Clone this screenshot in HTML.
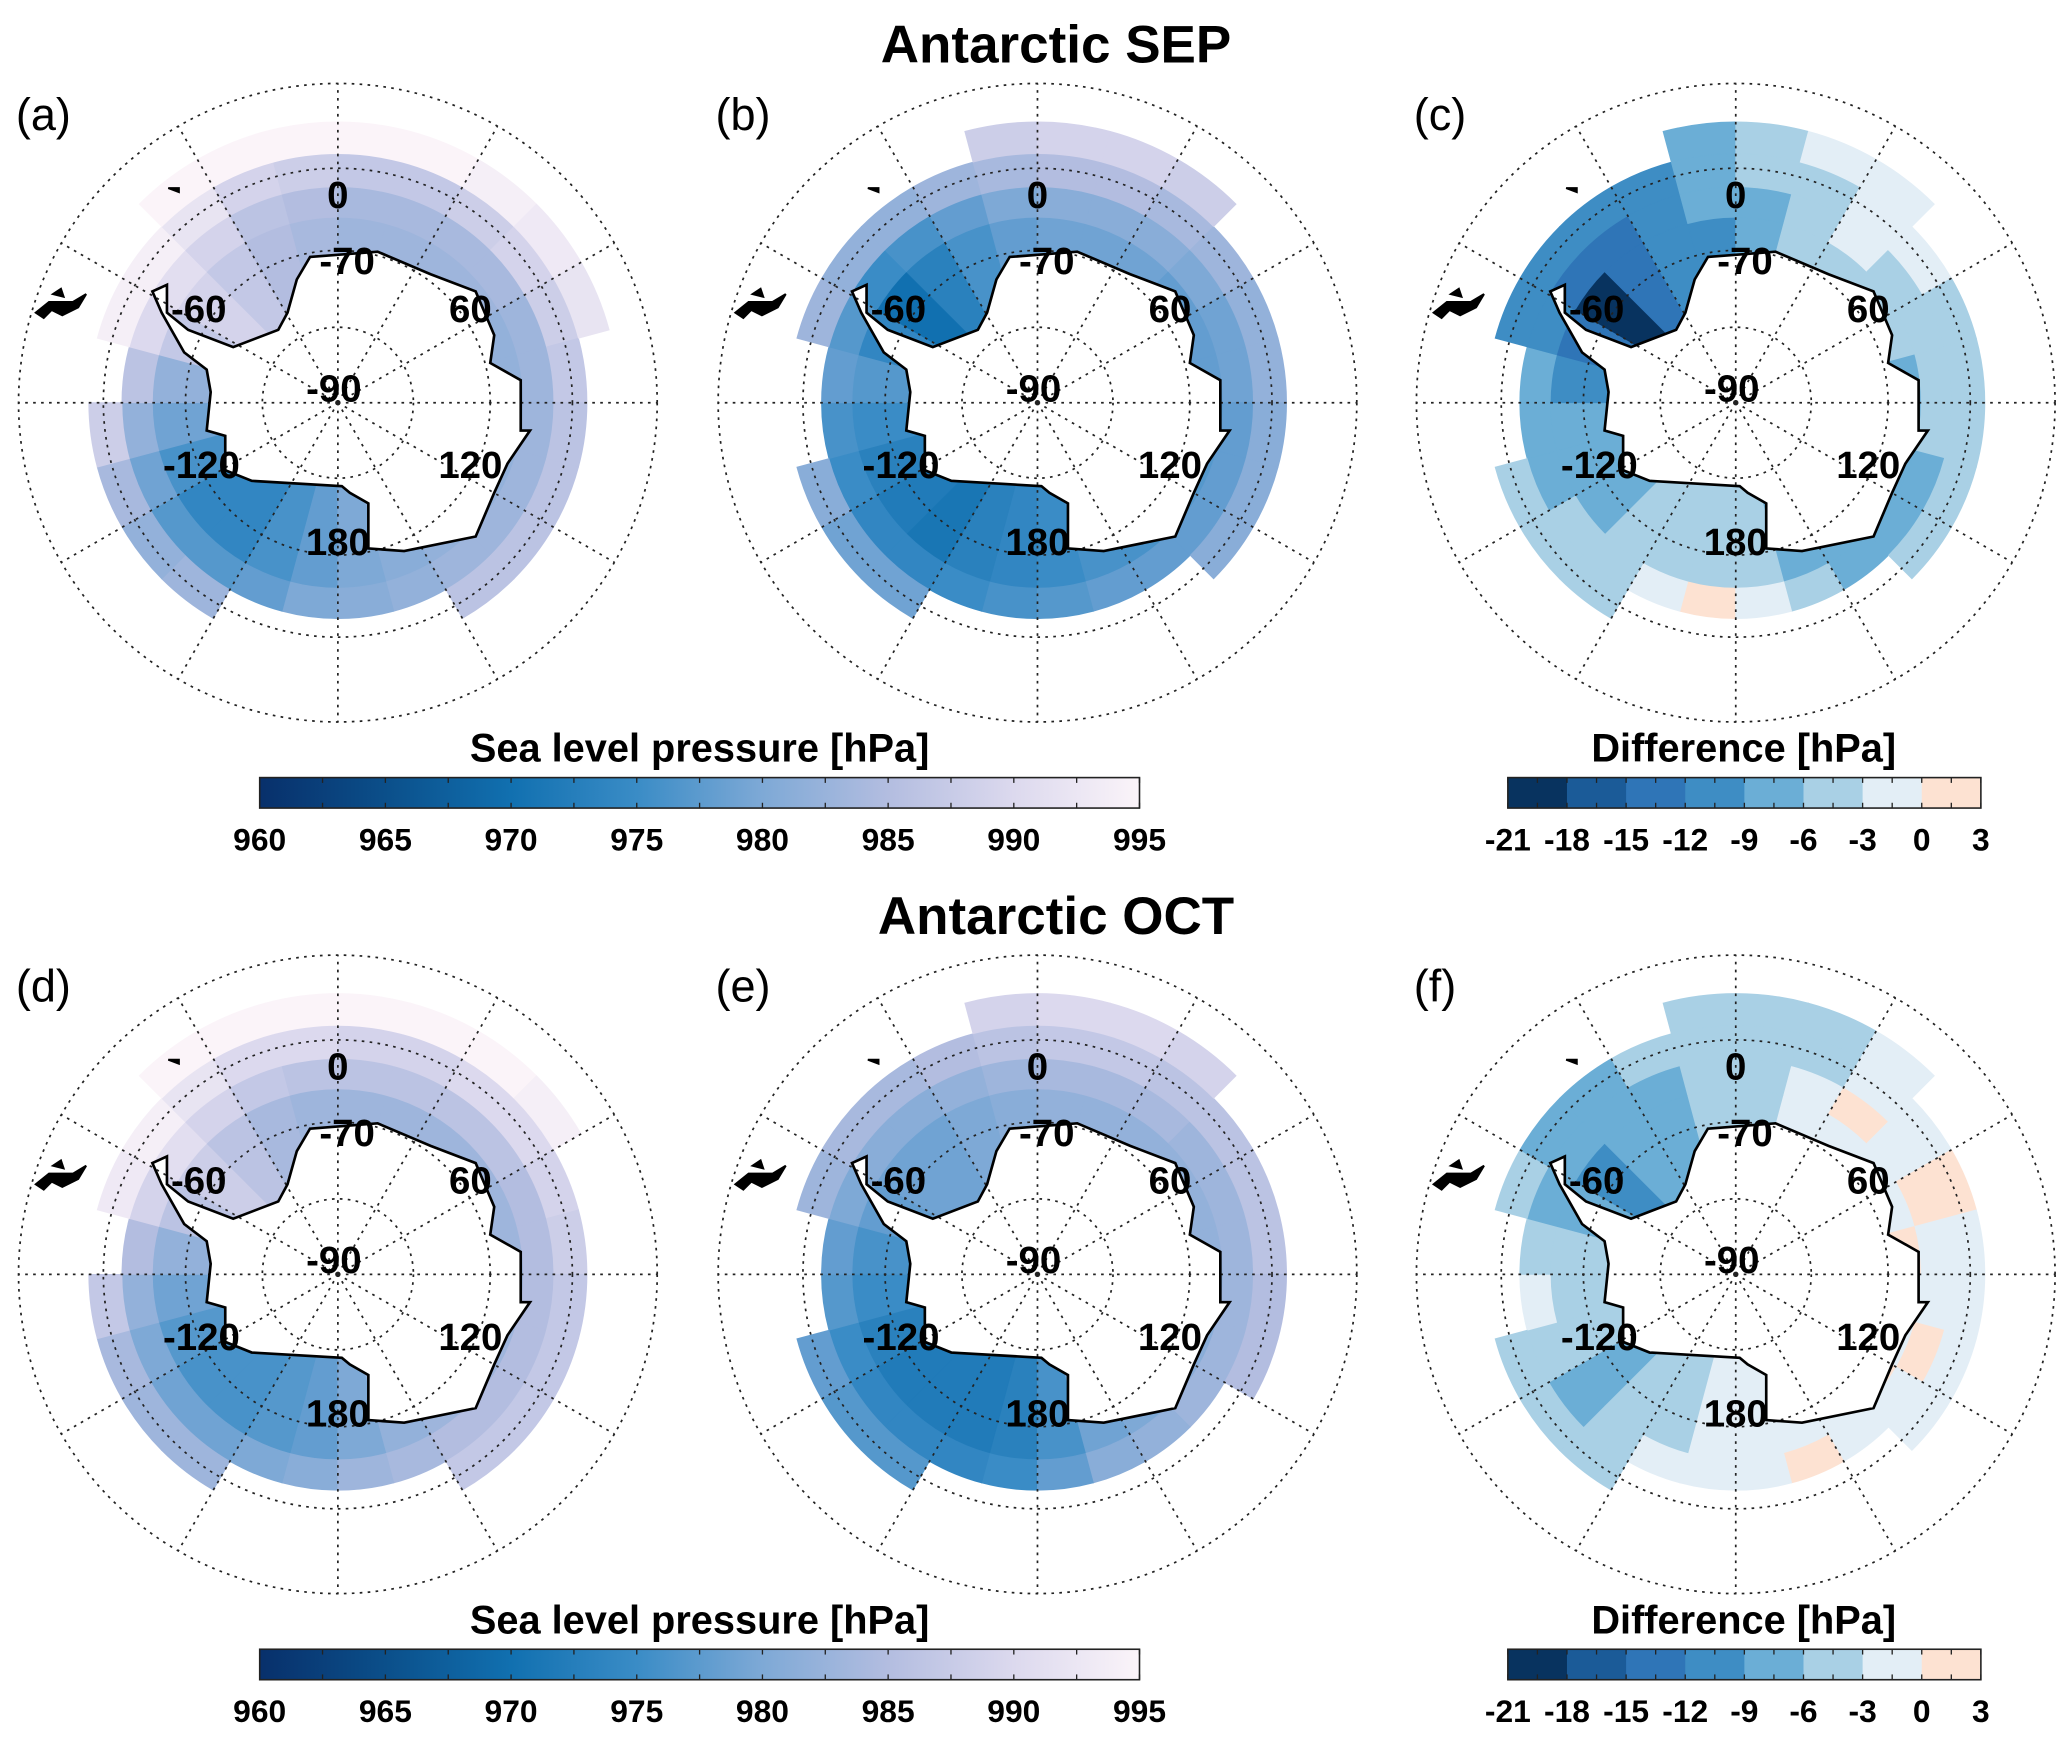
<!DOCTYPE html>
<html><head><meta charset="utf-8">
<style>
html,body{margin:0;padding:0;background:#fff;}
svg{display:block;font-family:"Liberation Sans",Arial,sans-serif;}
</style></head>
<body>
<svg id="fig" width="2067" height="1738" viewBox="0 0 1560 1312" preserveAspectRatio="none" xmlns="http://www.w3.org/2000/svg"></svg>
<script>
// ---- data: sector values per ring band (24 sectors of 15 deg, lon -180..180) ----
const sectorLonStart = [-180,-165,-150,-135,-120,-105,-90,-75,-60,-45,-30,-15,0,15,30,45,60,75,90,105,120,135,150,165];
const N = null;
const a1 = [978,976,974,974,976,979,982,987,989,987,985,984,983,983,983,983,982,982,982,982,982,982,981,980];
const a2 = [980,978,977,977,979,982,986,990,991,989,986,985,984,984,984,984,983,983,983,983,983,983,982,981];
const a3 = [N,N,983,982,984,988,N,994,994,992,989,988,987,987,988,989,988,987,986,986,986,986,N,N];
const a4 = [N,N,N,N,N,N,N,N,N,995,995,995,995,995,994,993,992,N,N,N,N,N,N,N];
const b1 = [974,973,971,972,973,975,977,974,970,973,976,978,979,979,979,978,978,978,977,977,977,976,976,975];
const b2 = [976,975,974,974,975,976,978,977,975,976,978,980,981,981,981,980,979,979,978,978,978,978,978,977];
const b3 = [N,N,979,979,981,N,N,983,982,982,983,984,985,985,984,983,982,982,981,981,981,N,N,N];
const b4 = [N,N,N,N,N,N,N,N,N,N,N,988,989,989,988,N,N,N,N,N,N,N,N,N];
const c1 = [-5,-5,-6,-7,-8,-9,-10,-15,-19,-15,-12,-10,-8,-6,-4,-5,-6,-7,-7,-8,-9,-9,-8,-6];
const c2 = [1,-3,-5,-6,-7,-8,-9,-12,-14,-13,-11,-9,-7,-5,-3,-4,-5,-5,-6,-7,-8,-7,-5,-1];
const c3 = [N,N,-4,-5,-6,N,N,-10,-11,-11,-10,-9,-6,-4,-3,-3,-4,-4,-5,-5,-6,N,N,N];
const c4 = [N,N,N,N,N,N,N,N,N,N,N,-8,-5,-2,-1,N,N,N,N,N,N,N,N,N];
const d1 = [978,977,976,976,977,979,982,986,988,986,984,983,983,983,983,983,983,983,983,983,983,983,982,980];
const d2 = [981,980,979,979,980,982,985,989,991,989,987,986,986,986,986,986,985,985,985,985,985,985,984,983];
const d3 = [N,N,983,983,984,987,N,993,994,992,990,990,989,989,990,990,989,988,987,987,987,987,N,N];
const d4 = [N,N,N,N,N,N,N,N,N,995,995,995,995,995,995,994,N,N,N,N,N,N,N,N];
const e1 = [973,972,972,972,973,975,976,978,979,979,980,981,982,982,982,982,982,982,981,981,981,980,979,976];
const e2 = [975,974,974,974,975,977,978,980,981,981,982,983,984,984,984,983,983,983,983,983,983,982,981,978];
const e3 = [N,N,977,977,978,N,N,983,984,984,985,986,987,987,986,986,986,986,985,985,N,N,N,N];
const e4 = [N,N,N,N,N,N,N,N,N,N,N,989,990,990,989,N,N,N,N,N,N,N,N,N];
const f1 = [-3,-4,-6,-7,-5,-4,-5,-9,-10,-9,-8,-6,-4,-2,-1,-1,-1,0,-1,-1,1,-1,-2,-3];
const f2 = [-1,-2,-5,-7,-6,-3,-4,-7,-8,-8,-7,-5,-4,-2,1,-1,0,-1,-1,1,-1,-1,1,-2];
const f3 = [N,N,-4,-6,-5,N,N,-6,-7,-7,-6,-5,-6,-4,-2,-1,0,-1,-2,-1,-1,N,N,N];
const f4 = [N,N,N,N,N,N,N,N,N,N,N,-5,-6,-5,-3,N,N,N,N,N,N,N,N,N];
const slpTicks = [960,965,970,975,980,985,990,995];
const diffTicks = [-21,-18,-15,-12,-9,-6,-3,0,3];
const diffColors = ['#08335f','#1b5b98','#2f75b7','#3e8dc4','#6baed6','#a9d0e5','#e3eef6','#fde2d2'];
const gridLatLabels = ['0','-70','60','-60','-90','-120','120','180'];

const NS='http://www.w3.org/2000/svg';
const svg=document.getElementById('fig');
function mk(tag,attrs,parent){const e=document.createElementNS(NS,tag);for(const k in attrs)e.setAttribute(k,attrs[k]);(parent||svg).appendChild(e);return e;}

const slpStops=[[960,[8,48,107]],[965,[11,79,138]],[970,[17,112,176]],[975,[58,140,198]],[980,[126,169,214]],[985,[179,189,224]],[990,[220,217,238]],[995,[251,244,249]]];
function slpColor(v){
  v=Math.max(960,Math.min(995,v));
  for(let i=0;i<slpStops.length-1;i++){const [v0,c0]=slpStops[i],[v1,c1]=slpStops[i+1];
    if(v<=v1){const t=(v-v0)/(v1-v0);return 'rgb('+c0.map((c,j)=>Math.round(c+(c1[j]-c)*t)).join(',')+')';}}
  return 'rgb(251,244,249)';
}
function diffColor(v){let i=Math.floor((v+21)/3);i=Math.max(0,Math.min(7,i));return diffColors[i];}

const bandEdges=[60,140,163,188,212];
function pol(cx,cy,r,lon){const a=lon*Math.PI/180;return [cx+r*Math.sin(a),cy-r*Math.cos(a)];}
function wedge(cx,cy,r0,r1,l0,l1){
  const p1=pol(cx,cy,r0,l0),p2=pol(cx,cy,r1,l0),p3=pol(cx,cy,r1,l1),p4=pol(cx,cy,r0,l1);
  return `M${p1}L${p2}A${r1},${r1} 0 0 1 ${p3}L${p4}A${r0},${r0} 0 0 0 ${p1}Z`;
}
const coast=[[-21,-110],[30,-114],[70,-97],[104,-84],[118,-51],[115,-30],[138,-17],[138,21],[145,21],[128,46],[118,68],[104,101],[50,112],[23,110],[23,76],[9,68],[3,63],[-65,59],[-85,51],[-85,25],[-99,21],[-96,-8],[-99,-25],[-116,-38],[-133,-68],[-140,-84],[-129,-89],[-129,-68],[-113,-55],[-79,-42],[-45,-55],[-38,-68],[-31,-93]];

function panel(name,letter,cx,cy,bands,colorFn){
  const g=mk('g',{});
  
  
  const hm=mk('g',{},g);
  
  
  bands.forEach((band,bi)=>{
    band.forEach((v,si)=>{
      if(v===null)return;
      const l0=sectorLonStart[si];
      const p=mk('path',{d:wedge(cx,cy,bandEdges[bi],bandEdges[bi+1],l0,l0+15),fill:colorFn(v),stroke:colorFn(v),'stroke-width':0.6},hm);
      
      
    });
  });
  const pts=coast.map(p=>(cx+p[0])+','+(cy+p[1])).join(' ');
  const land=mk('polygon',{points:pts,fill:'#fff',stroke:'none'},g);
  
  
  const grid=mk('g',{fill:'none',stroke:'#222','stroke-width':1.3,'stroke-dasharray':'2 4'},g);
  
  
  [57,115,177,241].forEach(r=>{const c=mk('circle',{cx:cx,cy:cy,r:r},grid);
    
    });
  for(let l=0;l<360;l+=30){const p=pol(cx,cy,241,l);const ln=mk('line',{x1:cx,y1:cy,x2:p[0],y2:p[1]},grid);
    
    }
  const cl=mk('polygon',{points:pts,fill:'none',stroke:'#000','stroke-width':2},g);
  
  
  const sa=mk('path',{d:`M${cx-228},${cy-68} l10,-8 l18,0 l10,-6 l-6,10 l-12,6 l-8,-4 l-6,6 z M${cx-215},${cy-82} l6,-4 l2,6 z M${cx-128},${cy-162} l8,0 l0,3 z`,fill:'#000',stroke:'#000','stroke-width':1.5},g);
  
  
  const lp=[[0,-147],[7,-97],[100,-61],[-105,-61],[-3,-1],[-103,57],[100,57],[0,115]];
  gridLatLabels.forEach((t,i)=>{const tx=mk('text',{x:cx+lp[i][0],y:cy+lp[i][1],'font-size':29,'font-weight':'bold','text-anchor':'middle',fill:'#000'},g);
    tx.textContent=t;
    
    });
  const pl=mk('text',{x:cx-243,y:cy-206,'font-size':34,fill:'#000'},g);
  pl.textContent='('+letter+')';
  
  
}

function title(t,y){const e=mk('text',{x:797,y:y,'font-size':40,'font-weight':'bold','text-anchor':'middle'});e.textContent=t;
  
  }

function slpBar(y){
  const g=mk('g',{});
  
  
  const x0=196,x1=860;
  const defs=mk('defs',{},g);
  const gid='slpgrad'+y;
  const lg=mk('linearGradient',{id:gid,x1:0,x2:1,y1:0,y2:0},defs);
  slpStops.forEach(s=>mk('stop',{offset:((s[0]-960)/35),'stop-color':slpColor(s[0])},lg));
  mk('rect',{x:x0,y:y,width:x1-x0,height:23,fill:`url(#${gid})`,stroke:'#222','stroke-width':1.2},g);
  for(let v=960;v<=995;v+=2.5){const x=x0+(v-960)/35*(x1-x0);
    mk('line',{x1:x,x2:x,y1:y+23,y2:y+19,stroke:'#222','stroke-width':1},g);
    mk('line',{x1:x,x2:x,y1:y,y2:y+4,stroke:'#222','stroke-width':1},g);}
  const lb=mk('text',{x:528,y:y-12,'font-size':30,'font-weight':'bold','text-anchor':'middle'},g);
  lb.textContent='Sea level pressure [hPa]';
  
  
  slpTicks.forEach(v=>{const t=mk('text',{x:x0+(v-960)/35*(x1-x0),y:y+55,'font-size':24,'font-weight':'bold','text-anchor':'middle'},g);
    t.textContent=v;
    
    });
}
function diffBar(y){
  const g=mk('g',{});
  
  
  const x0=1138,x1=1495,w=(x1-x0)/8;
  diffColors.forEach((c,i)=>{const r=mk('rect',{x:x0+i*w,y:y,width:w+0.5,height:23,fill:c},g);
    
    });
  mk('rect',{x:x0,y:y,width:x1-x0,height:23,fill:'none',stroke:'#222','stroke-width':1.2},g);
  for(let i=0;i<=16;i++){const x=x0+i*w/2;mk('line',{x1:x,x2:x,y1:y+23,y2:y+19,stroke:'#222'},g);mk('line',{x1:x,x2:x,y1:y,y2:y+4,stroke:'#222'},g);}
  const lb=mk('text',{x:1316,y:y-12,'font-size':30,'font-weight':'bold','text-anchor':'middle'},g);
  lb.textContent='Difference [hPa]';
  
  
  diffTicks.forEach((v,i)=>{const t=mk('text',{x:x0+i*w,y:y+55,'font-size':24,'font-weight':'bold','text-anchor':'middle'},g);
    t.textContent=v;
    
    });
}

title('Antarctic SEP',47);
title('Antarctic OCT',705);
panel('a','a',255,304,[a1,a2,a3,a4],slpColor);
panel('b','b',783,304,[b1,b2,b3,b4],slpColor);
panel('c','c',1310,304,[c1,c2,c3,c4],diffColor);
panel('d','d',255,962,[d1,d2,d3,d4],slpColor);
panel('e','e',783,962,[e1,e2,e3,e4],slpColor);
panel('f','f',1310,962,[f1,f2,f3,f4],diffColor);
slpBar(587);
diffBar(587);
slpBar(1245);
diffBar(1245);
</script>
</body></html>
